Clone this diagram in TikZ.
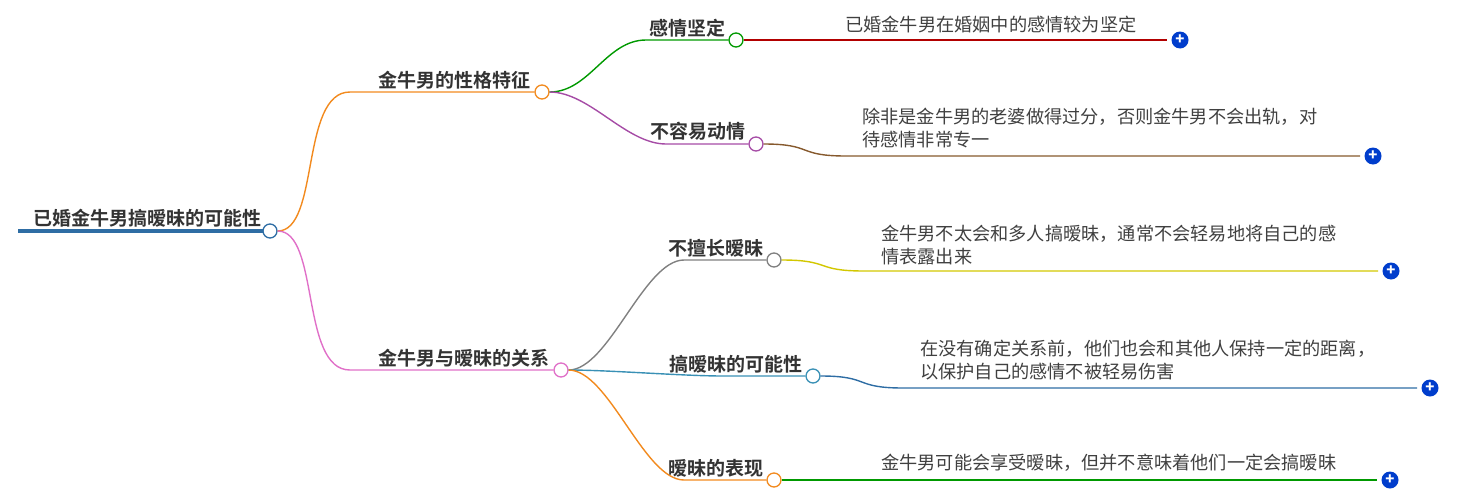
\documentclass[tikz,border=0pt]{standalone}
\usepackage{fontspec}
\setmainfont{Noto Sans CJK SC}
\newfontfamily\cjkb{Noto Sans CJK SC Bold}
\begin{document}
\begin{tikzpicture}[x=1pt,y=-1pt,
  lbl/.style={font=\cjkb\fontsize{19}{21}\selectfont,text=black!80,inner sep=0,anchor=south east},
  txt/.style={font=\fontsize{18.2}{23}\selectfont,text=black!75,inner sep=0,anchor=north west,align=left},
  dot/.style={circle,draw,fill=white,line width=1.3pt,minimum size=14pt,inner sep=0},
  plus/.style={circle,fill=blue!70!cyan!80!black,minimum size=17pt,inner sep=0,text=white,font=\bfseries\fontsize{15}{15}\selectfont},
  ln/.style={line width=1.4pt}]
\useasboundingbox (0,0) rectangle (1469,493);
\definecolor{rootc}{HTML}{2E6DA4}
\definecolor{org}{HTML}{F28A1E}
\definecolor{pnk}{HTML}{E070C8}
% root
\node[lbl] (rt) at (262,227) {已婚金牛男搞暧昧的可能性};
\draw[line width=3.5pt,rootc] (18,231) -- (263,231);
\node[dot,draw=rootc] (r) at (270,231) {};
% branches
\node[dot,draw=org] (b1) at (542,92) {};
\node[lbl] at (531,89) {金牛男的性格特征};
\draw[ln,org] (r.east) .. controls (320,231) and (300,92) .. (350,92) -- (b1.west);
\node[dot,draw=pnk] (b2) at (561,370) {};
\node[lbl] at (550,367) {金牛男与暧昧的关系};
\draw[ln,pnk] (r.east) .. controls (320,231) and (300,370) .. (350,370) -- (b2.west);
% leaves
\newcommand\leaf[9]{%
 \node[dot,draw=#5] (#1) at (#3,#4) {};
 \draw[ln,#5] (#2.east) .. controls ++(40,0) and (#3-130,#4) .. (#3-90,#4) -- (#1.west);
 \node[lbl] at (#3-10,#4-3) {#6};
 \draw[ln,#7] (#1.east) .. controls ++(50,0) and (#3+40,#9) .. (#3+90,#9) -- (#8,#9);
 \node[plus] (#1p) at (#8+13,#9) {+};
}
\leaf{l1}{b1}{736}{40}{green!60!black}{感情坚定}{red!70!black}{1167}{40}
\node[txt] at (845,16) {已婚金牛男在婚姻中的感情较为坚定};
\leaf{l2}{b1}{756}{144}{violet!70}{不容易动情}{brown!70!black}{1360}{156}
\node[txt] at (862,108) {除非是金牛男的老婆做得过分，否则金牛男不会出轨，对\\待感情非常专一};
\leaf{l3}{b2}{774}{260}{gray}{不擅长暧昧}{yellow!60!olive}{1378}{271}
\node[txt] at (881,225) {金牛男不太会和多人搞暧昧，通常不会轻易地将自己的感\\情表露出来};
\leaf{l4}{b2}{813}{376}{cyan!70!black}{搞暧昧的可能性}{rootc}{1417}{388}
\node[txt] at (920,340) {在没有确定关系前，他们也会和其他人保持一定的距离，\\以保护自己的感情不被轻易伤害};
\leaf{l5}{b2}{774}{480}{org}{暧昧的表现}{green!60!black}{1377}{480}
\node[txt] at (881,454) {金牛男可能会享受暧昧，但并不意味着他们一定会搞暧昧};
\end{tikzpicture}
\end{document}
